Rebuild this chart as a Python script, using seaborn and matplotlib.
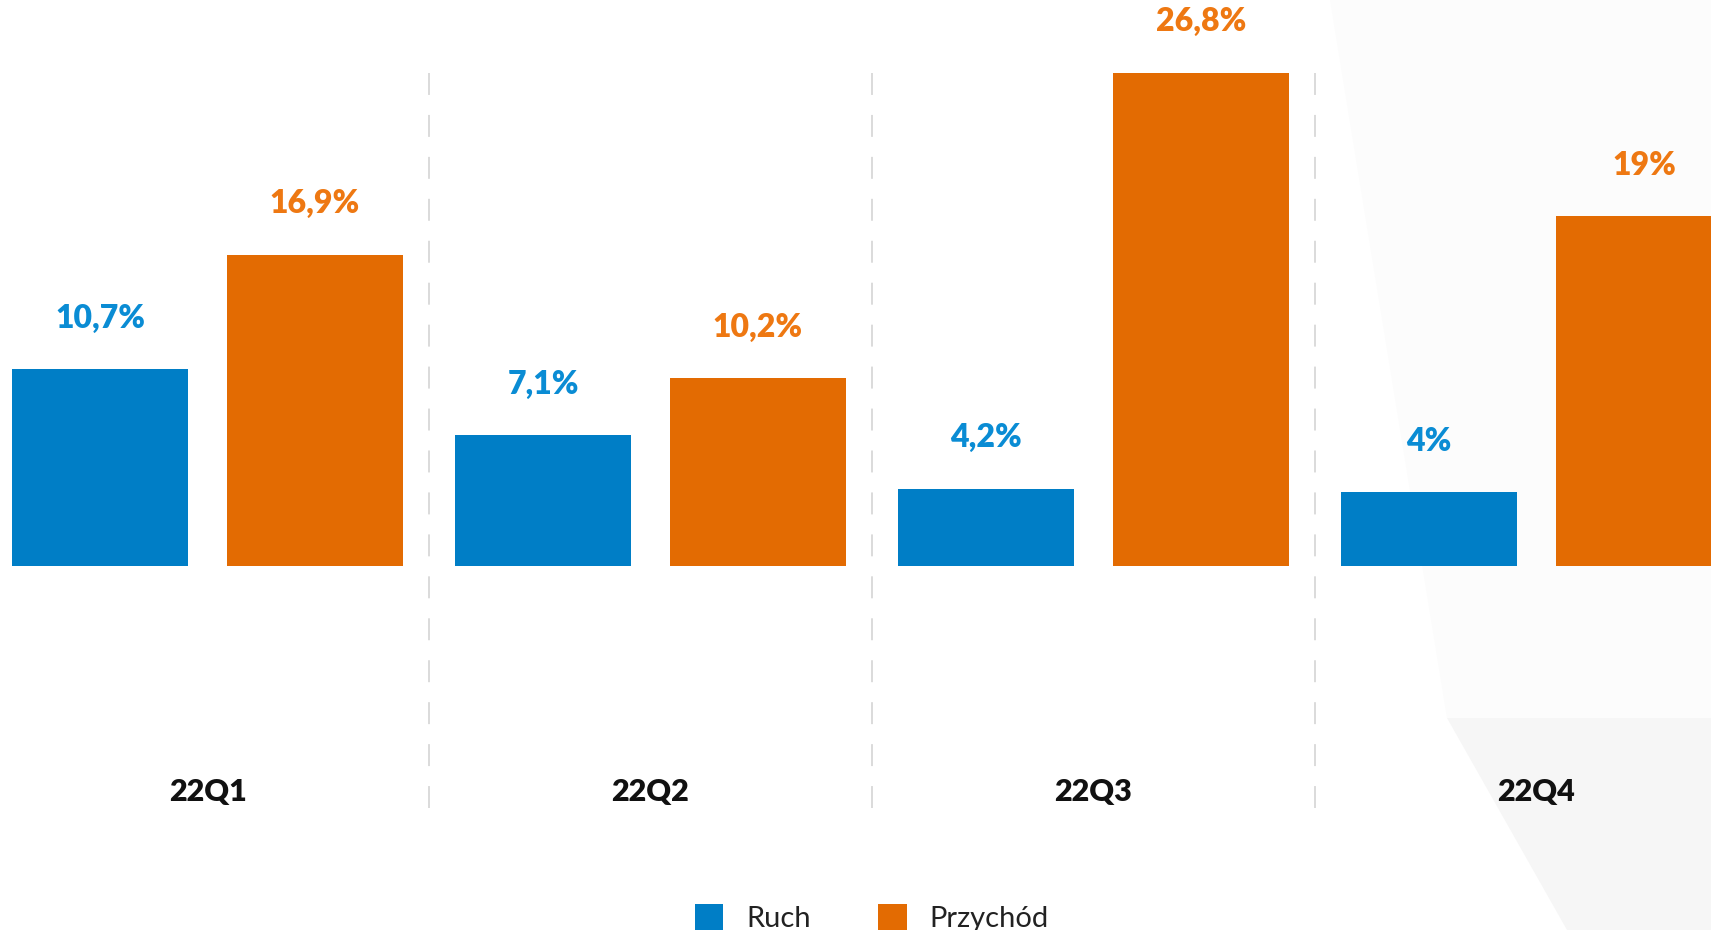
import numpy as np
import pandas as pd
import matplotlib
matplotlib.use("Agg")
import matplotlib.pyplot as plt
from matplotlib.patches import Polygon
import seaborn as sns

# dane z wykresu
kwartaly = ["22Q1", "22Q2", "22Q3", "22Q4"]
ruch = [10.7, 7.1, 4.2, 4.0]
przychod = [16.9, 10.2, 26.8, 19.0]
etykiety_ruch = ["10,7%", "7,1%", "4,2%", "4%"]
etykiety_przychod = ["16,9%", "10,2%", "26,8%", "19%"]
serie = ["Ruch", "Przychód"]

niebieski = "#007EC6"
pomaranczowy = "#E36B02"
tekst_nieb = "#0A8CD4"
tekst_pom = "#EE7812"

df = pd.DataFrame({
    "kwartal": kwartaly * 2,
    "wartosc": ruch + przychod,
    "seria": [serie[0]] * 4 + [serie[1]] * 4,
})

sns.set_style("white")
plt.rcParams["font.family"] = ["Lato", "DejaVu Sans"]

W, H = 1711, 930
fig = plt.figure(figsize=(W / 100, H / 100), dpi=100)
ax = fig.add_axes([0, 0, 1, 1])
ax.set_zorder(1)
ax.patch.set_alpha(0)

# delikatne tło w prawym dolnym rogu
fig.patches.append(Polygon([(1447 / W, 1 - 718 / H), (1.0, 1 - 718 / H), (1.0, 0.0), (1567 / W, 0.0)],
                           closed=True, transform=fig.transFigure, facecolor="#F6F6F6",
                           edgecolor="none", zorder=0))
fig.patches.append(Polygon([(1330 / W, 1.0), (1.0, 1.0), (1.0, 1 - 718 / H), (1447 / W, 1 - 718 / H)],
                           closed=True, transform=fig.transFigure, facecolor="#FCFCFC",
                           edgecolor="none", zorder=0))

sns.barplot(data=df, x="kwartal", y="wartosc", hue="seria", hue_order=serie,
            palette=[niebieski, pomaranczowy], saturation=1, width=0.97, gap=0.18,
            linewidth=0, errorbar=None, ax=ax)

# skala: 18.4 px na 1%, linia bazowa na y=566 px
s = 18.4
ax.set_ylim(-(H - 566) / s, 566 / s)
ax.set_xlim(-207.5 / 443, (W - 207.5) / 443)

# etykiety wartości
for cont, etyk, kol in zip(ax.containers, [etykiety_ruch, etykiety_przychod], [tekst_nieb, tekst_pom]):
    for bar, t in zip(cont, etyk):
        ax.annotate(t, (bar.get_x() + bar.get_width() / 2, bar.get_height()),
                    xytext=(0, 30), textcoords="offset points", ha="center", va="baseline",
                    fontsize=23, fontweight="heavy", color=kol)

# przerywane separatory
lw = 1.2
for x in np.arange(0.5, len(kwartaly) - 0.5, 1):
    ax.axvline(x, ymin=(H - 808) / H, ymax=(H - 56) / H, color="#D4D4D4", lw=lw,
               linestyle=(0, (15.8 / lw, 14.4 / lw)), zorder=0)

# nazwy kwartałów
for i, k in enumerate(kwartaly):
    ax.text(i, (H - 801) / H, k, transform=ax.get_xaxis_transform(), ha="center",
            va="baseline", fontsize=22, fontweight="heavy", color="#111111")

ax.set_xticks([])
ax.set_yticks([])
ax.set_xlabel("")
ax.set_ylabel("")
sns.despine(ax=ax, left=True, bottom=True)

handles, labels = ax.get_legend_handles_labels()
ax.legend(handles, labels, loc="lower center", bbox_to_anchor=(872 / W, -0.002),
          frameon=False, ncol=2, fontsize=21, handlelength=0.97, handleheight=0.97,
          handletextpad=0.8, columnspacing=2.3, borderpad=0, borderaxespad=0,
          labelcolor="#222222")

fig.savefig("out.png", dpi=100)
